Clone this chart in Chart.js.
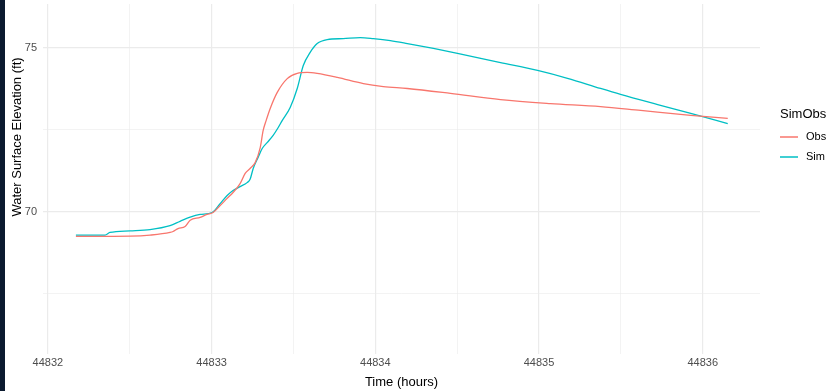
<!DOCTYPE html>
<html>
<head>
    <title>Water Surface Elevation</title>
    <script src="https://cdn.jsdelivr.net/npm/chart.js"></script>
    <style>
        body { margin: 0; background: #ffffff; }
        canvas { display: block; }
    </style>
</head>
<body>
    <canvas id="wse" width="833" height="391"></canvas>

    <script>
    // values
    const obsTime = [44832.171, 44832.502, 44832.624, 44832.746, 44832.765, 44832.795, 44832.838, 44832.869,
        44832.930, 44832.972, 44833.009, 44833.052, 44833.095, 44833.131, 44833.174, 44833.205, 44833.235,
        44833.266, 44833.297, 44833.315, 44833.333, 44833.358, 44833.401, 44833.462, 44833.523, 44833.584,
        44833.645, 44833.768, 44833.927, 44834.049, 44834.196, 44834.459, 44834.765, 44835.070, 44835.376,
        44835.621, 44835.927, 44836.153];
    const obsWse = [69.24, 69.25, 69.28, 69.36, 69.39, 69.48, 69.54, 69.73,
        69.82, 69.91, 69.97, 70.18, 70.40, 70.58, 70.85, 71.16, 71.31,
        71.49, 71.95, 72.47, 72.77, 73.14, 73.63, 74.05, 74.21, 74.24,
        74.21, 74.09, 73.90, 73.81, 73.75, 73.60, 73.41, 73.29, 73.20,
        73.08, 72.93, 72.84];

    const simTime = [44832.171, 44832.349, 44832.379, 44832.502, 44832.624, 44832.746, 44832.807, 44832.869,
        44832.930, 44833.003, 44833.052, 44833.095, 44833.131, 44833.174, 44833.217, 44833.235, 44833.254,
        44833.284, 44833.309, 44833.339, 44833.376, 44833.407, 44833.431, 44833.480, 44833.523, 44833.560,
        44833.602, 44833.645, 44833.706, 44833.804, 44833.908, 44833.988, 44834.092, 44834.196, 44834.355,
        44834.502, 44834.765, 44834.991, 44835.174, 44835.376, 44835.498, 44835.725, 44835.927, 44836.153];
    const simWse = [69.28, 69.28, 69.36, 69.41, 69.45, 69.57, 69.70, 69.83,
        69.91, 69.97, 70.24, 70.49, 70.64, 70.76, 70.88, 70.98, 71.31,
        71.65, 71.92, 72.10, 72.32, 72.56, 72.77, 73.17, 73.75, 74.45,
        74.85, 75.12, 75.24, 75.27, 75.30, 75.27, 75.21, 75.12, 74.97,
        74.82, 74.54, 74.30, 74.06, 73.75, 73.57, 73.26, 72.99, 72.68];

    const seriesNames = ['Obs', 'Sim'];
    const seriesColors = ['#F8766D', '#00BFC4'];
    const xTicks = [44832, 44832.5, 44833, 44833.5, 44834, 44834.5, 44835, 44835.5, 44836];
    const yTicks = [67.5, 70, 72.5, 75];

    const fontFamily = "'Liberation Sans', Arial, sans-serif";

    function toPoints(xs, ys) {
        return xs.map((x, i) => ({ x: x, y: ys[i] }));
    }

    // dark strip on the left, y title and the ggplot-style legend
    const decor = {
        id: 'decor',
        afterDraw(chart) {
            const ctx = chart.ctx;
            ctx.save();
            ctx.fillStyle = '#0b1a2f';
            ctx.fillRect(0, 0, 5, chart.height);

            ctx.fillStyle = '#000000';
            ctx.font = '13px ' + fontFamily;
            ctx.textAlign = 'center';
            ctx.textBaseline = 'middle';
            ctx.translate(17, 137);
            ctx.rotate(-Math.PI / 2);
            ctx.fillText('Water Surface Elevation (ft)', 0, 0);
            ctx.restore();

            ctx.save();
            ctx.fillStyle = '#000000';
            ctx.textBaseline = 'middle';
            ctx.textAlign = 'left';
            ctx.font = '13px ' + fontFamily;
            ctx.fillText('SimObs', 780, 114);
            ctx.font = '11px ' + fontFamily;
            chart.data.datasets.forEach((ds, i) => {
                const y = 137 + i * 20;
                ctx.strokeStyle = ds.borderColor;
                ctx.lineWidth = 1.5;
                ctx.beginPath();
                ctx.moveTo(780, y);
                ctx.lineTo(798, y);
                ctx.stroke();
                ctx.fillStyle = '#000000';
                ctx.fillText(ds.label, 806, y);
            });
            ctx.restore();
        }
    };

    new Chart(document.getElementById('wse').getContext('2d'), {
        type: 'line',
        data: {
            datasets: [
                {
                    label: seriesNames[0],
                    data: toPoints(obsTime, obsWse),
                    borderColor: seriesColors[0],
                    borderWidth: 1.3,
                    pointRadius: 0,
                    fill: false,
                    cubicInterpolationMode: 'monotone'
                },
                {
                    label: seriesNames[1],
                    data: toPoints(simTime, simWse),
                    borderColor: seriesColors[1],
                    borderWidth: 1.3,
                    pointRadius: 0,
                    fill: false,
                    cubicInterpolationMode: 'monotone'
                }
            ]
        },
        options: {
            responsive: false,
            animation: false,
            devicePixelRatio: 1,
            layout: { padding: { top: 4, right: 73, left: 0, bottom: 0 } },
            plugins: {
                legend: { display: false },
                tooltip: { enabled: false }
            },
            scales: {
                x: {
                    type: 'linear',
                    min: 44831.97,
                    max: 44836.35,
                    afterBuildTicks: s => { s.ticks = xTicks.map(v => ({ value: v })); },
                    afterFit: s => {
                        s.height = 37;
                        s.paddingLeft = 0;
                        s.paddingRight = 0;
                    },
                    grid: {
                        color: '#EBEBEB',
                        lineWidth: c => Number.isInteger(c.tick.value) ? 1.2 : 0.6,
                        drawTicks: false
                    },
                    border: { display: false },
                    ticks: {
                        autoSkip: false,
                        maxRotation: 0,
                        padding: 2,
                        color: '#4D4D4D',
                        font: { family: fontFamily, size: 11 },
                        callback: v => Number.isInteger(v) ? String(v) : ''
                    },
                    title: {
                        display: true,
                        text: 'Time (hours)',
                        color: '#000000',
                        font: { family: fontFamily, size: 13 },
                        padding: { top: 0, bottom: 1 }
                    }
                },
                y: {
                    min: 65.655,
                    max: 76.326,
                    afterBuildTicks: s => { s.ticks = yTicks.map(v => ({ value: v })); },
                    afterFit: s => {
                        s.width = 43;
                        s.paddingTop = 0;
                        s.paddingBottom = 0;
                    },
                    grid: {
                        color: '#EBEBEB',
                        lineWidth: c => c.tick.value % 5 === 0 ? 1.2 : 0.6,
                        drawTicks: false
                    },
                    border: { display: false },
                    ticks: {
                        padding: 6,
                        color: '#4D4D4D',
                        font: { family: fontFamily, size: 11 },
                        callback: v => v % 5 === 0 ? String(v) : ''
                    }
                }
            }
        },
        plugins: [decor]
    });
    </script>
</body>
</html>
